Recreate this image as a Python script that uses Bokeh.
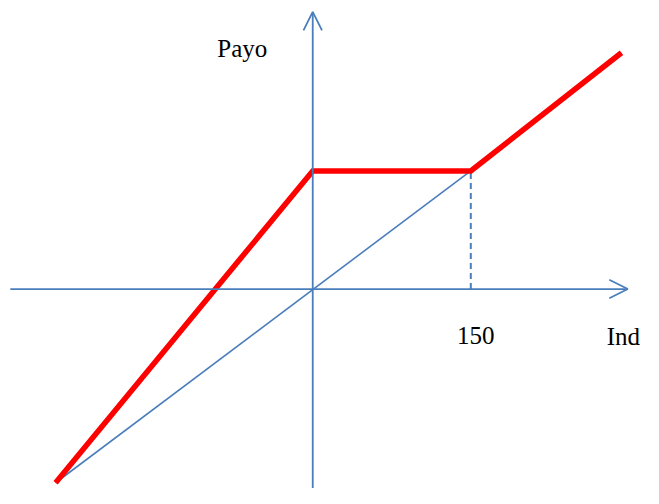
from bokeh.plotting import figure
from bokeh.models import Range1d, Arrow, OpenHead, ColumnDataSource
from bokeh.core.properties import value
from bokeh.embed import file_html
from bokeh.resources import INLINE

# Data (index value vs payoff)
strike = 150
payoff_x = [-244, 0, 150, 293]
payoff_y = [-246, 150, 150, 300]
index_x = [-244, 150]
index_y = [-246, 150]
axis_x_span = [-287, 299]
axis_y_span = [352, -260]
labels = ["Payo", "150", "Ind"]

W, H = 643, 488
p = figure(width=W, height=H, output_backend="svg", toolbar_location=None,
           x_range=Range1d(-296.3, 313.9),
           y_range=Range1d(-253.3, 366.4),
           min_border=0, outline_line_color=None)
p.xaxis.visible = False
p.yaxis.visible = False
p.xgrid.visible = False
p.ygrid.visible = False
p.background_fill_color = "white"
p.border_fill_color = "white"

blue = "#4a7ebb"

# axes with arrow heads
p.add_layout(Arrow(end=OpenHead(size=18.5, line_color=blue, line_width=1.8),
                   x_start=axis_x_span[0], y_start=0, x_end=axis_x_span[1], y_end=0,
                   line_color=blue, line_width=1.8))
p.add_layout(Arrow(end=OpenHead(size=18.5, line_color=blue, line_width=1.8),
                   x_start=0, y_start=axis_y_span[1], x_end=0, y_end=axis_y_span[0],
                   line_color=blue, line_width=1.8))

# index line
p.line(index_x, index_y, line_color=blue, line_width=1.6)
# dashed strike marker
p.line([strike, strike], [0, strike], line_color=blue, line_width=2, line_dash="6 4")

# payoff
p.line(payoff_x, payoff_y, line_color="#ff0000", line_width=5.5, line_join="miter")

src = ColumnDataSource(dict(
    x=[-90.5, 137, 279],
    y=[306, -59.5, -60.5],
    t=labels,
))
p.text(x="x", y="y", text="t", source=src, text_font=value("Liberation Serif"),
       text_font_size="25px", text_color="black", text_baseline="alphabetic",
       text_align="left")

open("out.html", "w").write(file_html(p, INLINE))
